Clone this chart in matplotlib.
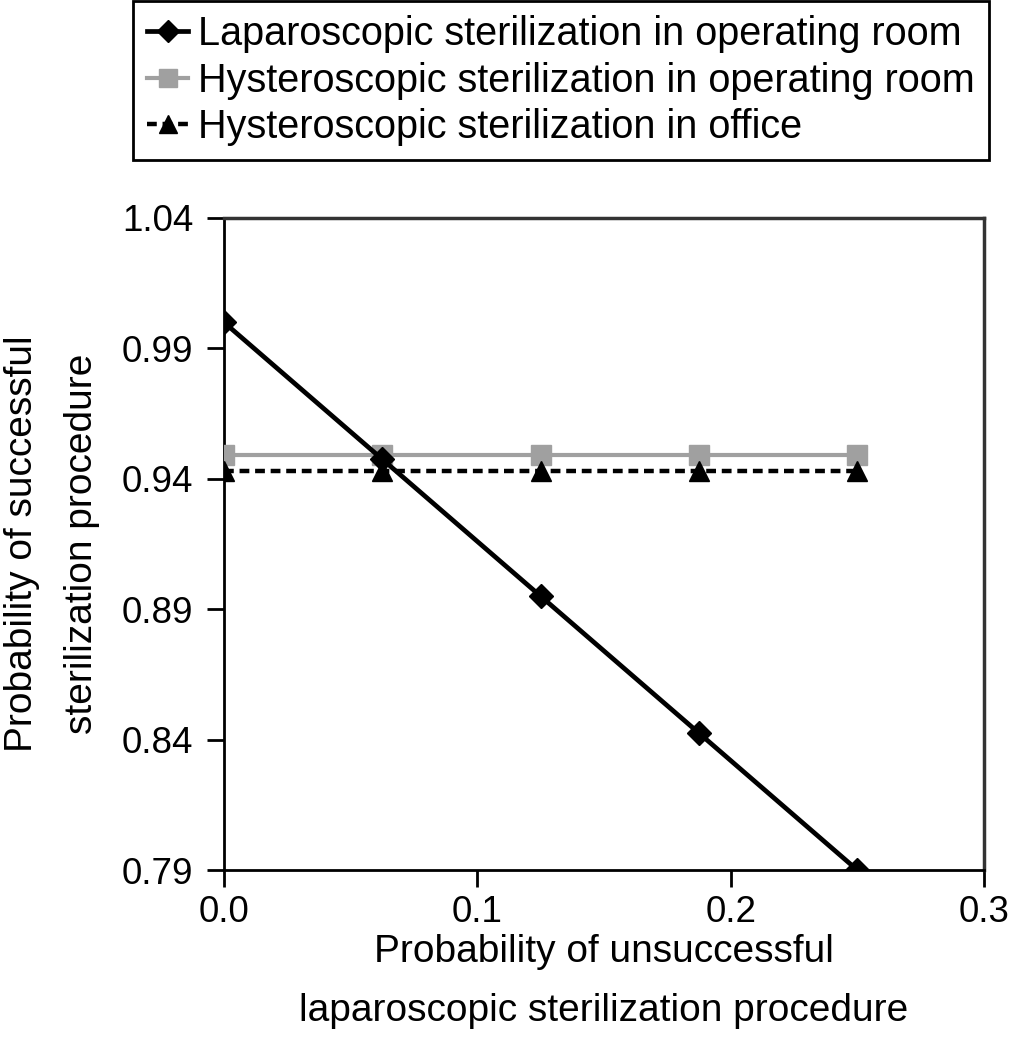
import matplotlib
matplotlib.use("Agg")
import matplotlib.pyplot as plt

plt.rcParams['font.family'] = ['Liberation Sans', 'DejaVu Sans']

x = [0.0, 0.0625, 0.125, 0.1875, 0.25]
lap_or = [1.0, 0.9475, 0.895, 0.8425, 0.79]
hyst_or = [0.949, 0.949, 0.949, 0.949, 0.949]
hyst_office = [0.943, 0.943, 0.943, 0.943, 0.943]

xticks = [0.0, 0.1, 0.2, 0.3]
yticks = [0.79, 0.84, 0.89, 0.94, 0.99, 1.04]

fig = plt.figure(figsize=(10.12, 10.5), dpi=100)
ax = fig.add_axes([0.2213, 0.1714, 0.7510, 0.6210])

ax.plot(x, lap_or, color="black", lw=3.4, marker="D", ms=12,
        label="Laparoscopic sterilization in operating room", zorder=4)
ax.plot(x, hyst_or, color="#a0a0a0", lw=3, marker="s", ms=15,
        label="Hysteroscopic sterilization in operating room", zorder=3)
ax.plot(x, hyst_office, color="black", lw=3.2, ls=(0, (2.2, 1.3)), marker="^", ms=15,
        label="Hysteroscopic sterilization in office", zorder=3)

ax.set_xlim(0, 0.3)
ax.set_ylim(0.79, 1.04)
ax.set_xticks(xticks)
ax.set_xticklabels(["%.1f" % t for t in xticks])
ax.set_yticks(yticks)
ax.set_yticklabels(["%.2f" % t for t in yticks])
ax.tick_params(direction="out", length=12, width=2, labelsize=26.5, pad=10)
ax.tick_params(axis="x", pad=6)
for s in ["left", "bottom"]:
    ax.spines[s].set_linewidth(2)
for s in ["top", "right"]:
    ax.spines[s].set_linewidth(2.5)
    ax.spines[s].set_color("#333333")

ax.set_xlabel("Probability of unsuccessful\nlaparoscopic sterilization procedure",
              fontsize=28, labelpad=3, linespacing=1.8)
ax.set_ylabel("Probability of successful\nsterilization procedure",
              fontsize=28, labelpad=16, linespacing=1.85)

leg = fig.legend(loc="upper left", bbox_to_anchor=(133 / 1012, 1 - 1 / 1050), fontsize=28.5,
                 frameon=True, fancybox=False, edgecolor="black", framealpha=1,
                 handlelength=1.05, handletextpad=0.25, borderpad=0.35,
                 borderaxespad=0, labelspacing=0.22, markerscale=0.9)
leg.get_frame().set_linewidth(2)

fig.savefig("out.png", dpi=100)
